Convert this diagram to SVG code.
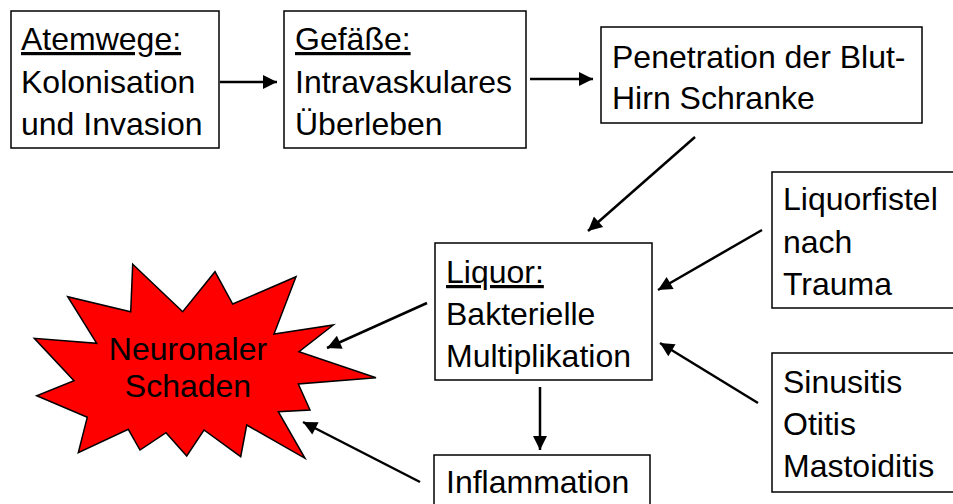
<svg xmlns="http://www.w3.org/2000/svg" width="953" height="504" viewBox="0 0 953 504">
<style>
  .box { fill: #ffffff; stroke: #000000; stroke-width: 1.5; }
  .t { font-family: "Liberation Sans", Arial, sans-serif; font-size: 32px; fill: #000000; }
  .u { text-decoration: underline; }
  .conn line { stroke: #000000; stroke-width: 2.5; fill: none; }
</style>
<defs>
  <marker id="ah" viewBox="0 0 10 10" refX="10" refY="5" markerWidth="7" markerHeight="5.6" markerUnits="strokeWidth" orient="auto">
    <path d="M0,0 L10,5 L0,10 Z" fill="#000000"/>
  </marker>
</defs>
<rect width="953" height="504" fill="#ffffff"/>

<g id="atemwege">
  <rect class="box" x="11" y="11" width="208" height="137"/>
  <text class="t u" x="21" y="50">Atemwege:</text>
  <text class="t" x="21" y="93">Kolonisation</text>
  <text class="t" x="21" y="135">und Invasion</text>
</g>

<g id="gefaesse">
  <rect class="box" x="284" y="11" width="242" height="137"/>
  <text class="t u" x="295" y="50">Gefäße:</text>
  <text class="t" x="295" y="93">Intravaskulares</text>
  <text class="t" x="295" y="135">Überleben</text>
</g>

<g id="penetration">
  <rect class="box" x="601" y="27" width="321" height="96"/>
  <text class="t" x="612" y="68">Penetration der Blut-</text>
  <text class="t" x="612" y="109">Hirn Schranke</text>
</g>

<g id="liquor">
  <rect class="box" x="435" y="243" width="217" height="137"/>
  <text class="t u" x="446" y="283">Liquor:</text>
  <text class="t" x="446" y="325">Bakterielle</text>
  <text class="t" x="446" y="367">Multiplikation</text>
</g>

<g id="inflammation">
  <rect class="box" x="434" y="455" width="216" height="60"/>
  <text class="t" x="446" y="493">Inflammation</text>
</g>

<g id="liquorfistel">
  <rect class="box" x="772" y="172" width="190" height="136"/>
  <text class="t" x="783" y="210">Liquorfistel</text>
  <text class="t" x="783" y="253">nach</text>
  <text class="t" x="783" y="295">Trauma</text>
</g>

<g id="sinusitis">
  <rect class="box" x="772" y="353" width="190" height="139"/>
  <text class="t" x="783" y="393">Sinusitis</text>
  <text class="t" x="783" y="435">Otitis</text>
  <text class="t" x="783" y="477">Mastoiditis</text>
</g>

<g id="neuronaler-schaden">
  <polygon points="132.7,264.3 182.7,311.7 215,271.7 232.7,304 296,276.7 274,334 333.3,325 299,351.7 376,377.7 298.3,384 310,410 278.3,411.7 305,458.3 246.7,425 240.7,456.7 204,430 186.7,456 166,432.7 140,450 128.3,429.3 78.3,452.7 87.3,417.3 36.7,395.7 74,380.7 34.3,338.3 96.7,343.3 67.7,296.7 130.7,311.7" fill="#ff0000" stroke="#000000" stroke-width="1.5" stroke-linejoin="miter"/>
  <text class="t" x="188" y="360" text-anchor="middle">Neuronaler</text>
  <text class="t" x="188" y="397" text-anchor="middle">Schaden</text>
</g>

<g id="connectors" class="conn">
  <line x1="220" y1="82" x2="277" y2="82" marker-end="url(#ah)"/>
  <line x1="530" y1="79" x2="593" y2="79" marker-end="url(#ah)"/>
  <line x1="695" y1="137" x2="588" y2="231" marker-end="url(#ah)"/>
  <line x1="762" y1="230" x2="658" y2="290" marker-end="url(#ah)"/>
  <line x1="758" y1="403" x2="660" y2="343" marker-end="url(#ah)"/>
  <line x1="427" y1="303" x2="327" y2="348" marker-end="url(#ah)"/>
  <line x1="540" y1="387" x2="540" y2="450" marker-end="url(#ah)"/>
  <line x1="420" y1="482" x2="303" y2="422" marker-end="url(#ah)"/>
</g>
</svg>
